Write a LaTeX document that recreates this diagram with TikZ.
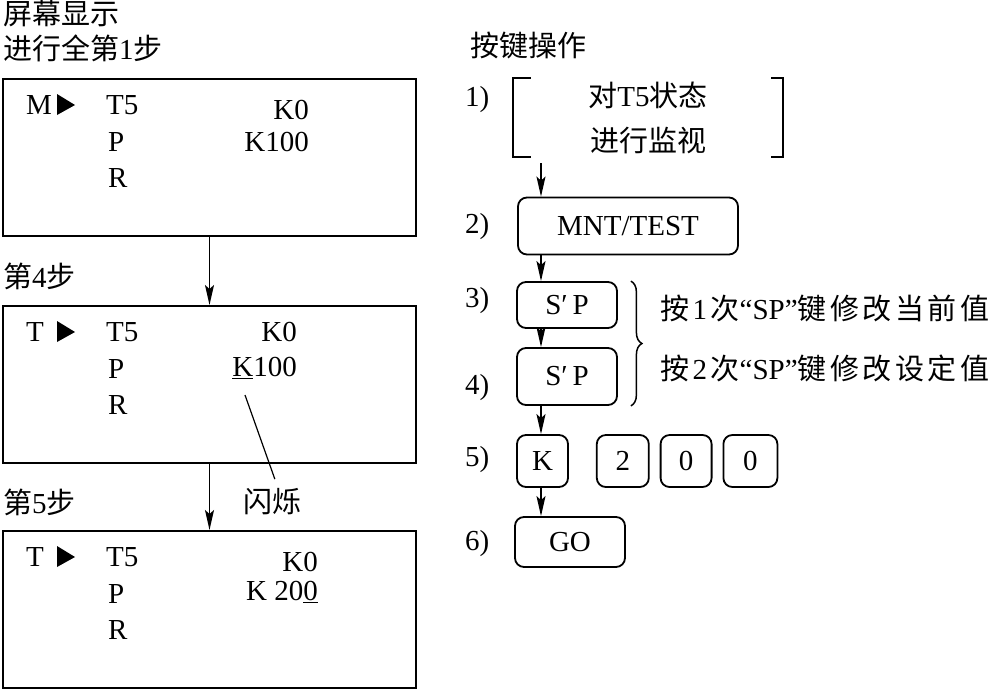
\documentclass[tikz,border=0pt]{standalone}
\usepackage{fontspec}
\setmainfont{Liberation Serif}
\newfontfamily\cjk{Noto Sans CJK SC}
\usetikzlibrary{arrows.meta,positioning,decorations.pathreplacing}
\newcommand\zh[1]{{\cjk #1}}
\newcommand\gap{\hspace{3.5pt}}

\begin{document}
\begin{tikzpicture}[x=1pt, y=-1pt, font=\fontsize{29}{34}\selectfont,
  screen/.style={draw, line width=2pt, minimum width=413pt, minimum height=157pt, inner sep=0pt},
  keybox/.style={draw, line width=1.8pt, rounded corners=9pt, inner sep=0pt, minimum height=52pt},
  txt/.style={inner sep=0pt, anchor=west},
  val/.style={inner sep=0pt, anchor=east},
  arr/.style={-{Stealth[length=20pt, width=9pt, inset=4pt]}, line width=1.6pt}]
  \useasboundingbox (0,0) rectangle (1005,689);

  % Bildschirmanzeige (links)
  \node[txt] (title1) at (3,14) {\zh{屏幕显示}};
  \node[txt] (title2) at (3,48) {\zh{进行全第}1\zh{步}};
  \node[screen] (scr1) at (209.5,157) {};
  \node[txt] (step4) at (3,276) {\zh{第}4\zh{步}};
  \node[screen] (scr2) at (209.5,384.5) {};
  \node[txt] (step5) at (3,502) {\zh{第}5\zh{步}};
  \node[screen] (scr3) at (209.5,609.5) {};

  \foreach \s/\yy/\mode in {1/105/M, 2/332/T, 3/557/T} {
    \node[txt] (mode\s) at (26,\yy) {\mode};
    \fill (57,{\yy-11}) -- (75,\yy) -- (57,{\yy+10}) -- cycle;
    \node[txt] (tn\s) at (106,\yy) {T5};
    \node[txt] (pn\s) at (108,{\yy+37}) {P};
    \node[txt] (rn\s) at (108,{\yy+73}) {R};
  }
  \node[val] (cur1) at (309,110) {K0};
  \node[val] (set1) at (309,142) {K100};
  \node[val] (cur2) at (297,332) {K0};
  \node[val] (set2) at (297,368) {\underline{K}100};
  \node[val] (cur3) at (318,562) {K0};
  \node[val] (set3) at (318,592) {K 20\underline{0}};

  \draw[arr] (scr1.south) -- (scr2.north);
  \draw[arr] (scr2.south) -- (scr3.north);

  \node[txt] (flash) at (243,502) {\zh{闪烁}};
  \coordinate (blink) at (245,395);
  \draw[line width=1.2pt, shorten >=10pt] (blink) -- ([xshift=6pt]flash.north);

  % Tastenbedienung (rechts)
  \node[txt] (keyop) at (470,45) {\zh{按键操作}};
  \foreach \n/\yy in {1/100, 2/227, 3/301, 4/388, 5/460, 6/544}
    \node[txt] (num\n) at (465,\yy) {\n)};

  \node[align=center, minimum width=270pt, minimum height=79pt, inner sep=0pt] (mon) at (648,117.5)
    {\zh{对}T5\zh{状态}\\[11pt]\zh{进行监视}};
  \draw[line width=1.8pt] ([xshift=18pt]mon.north west) -- (mon.north west)
    -- (mon.south west) -- ([xshift=18pt]mon.south west);
  \draw[line width=1.8pt] ([xshift=-12pt]mon.north east) -- (mon.north east)
    -- (mon.south east) -- ([xshift=-12pt]mon.south east);

  \node[keybox, minimum width=220pt, minimum height=57pt] (mnt) at (628,226) {MNT/TEST};
  \node[keybox, minimum width=100pt, minimum height=46pt] (sp1) at (567,305) {S′\,P};
  \node[keybox, minimum width=100pt, minimum height=57pt] (sp2) at (567,376.5) {S′\,P};
  \node[keybox, minimum width=51pt] (kk) at (542.5,461) {K};
  \node[keybox, minimum width=52pt, right=27pt of kk] (d2) {2};
  \node[keybox, minimum width=51pt, right=10pt of d2] (d0a) {0};
  \node[keybox, minimum width=54pt, right=10pt of d0a] (d0b) {0};
  \node[keybox, minimum width=110pt, minimum height=50pt] (go) at (570,542) {GO};

  \coordinate (ax) at (541,0);
  \draw[arr, shorten <=6pt] (mon.south -| ax) -- (mnt.north -| ax);
  \draw[arr] (mnt.south -| ax) -- (sp1.north -| ax);
  \draw[arr] (sp1.south -| ax) -- (sp2.north -| ax);
  \draw[arr] (sp2.south -| ax) -- (kk.north -| ax);
  \draw[arr] (kk.south -| ax) -- (go.north -| ax);

  \draw[line width=1.5pt, decorate, decoration={brace, amplitude=11pt}]
    ([xshift=13pt]sp1.north east) -- ([xshift=13pt]sp2.south east);
  \node[txt] (note1) at (660,308)
    {\zh{按}\gap{}1\gap{}\zh{次}“SP”\zh{键\gap{}修\gap{}改\gap{}当\gap{}前\gap{}值}};
  \node[txt] (note2) at (660,368)
    {\zh{按}\gap{}2\gap{}\zh{次}“SP”\zh{键\gap{}修\gap{}改\gap{}设\gap{}定\gap{}值}};
\end{tikzpicture}
\end{document}
